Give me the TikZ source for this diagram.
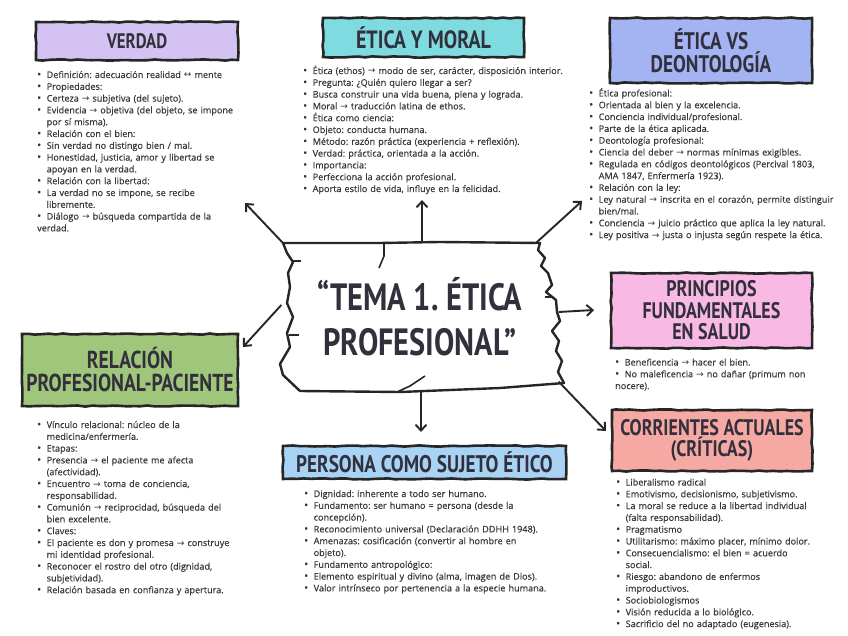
\documentclass[tikz,border=0pt]{standalone}
\usepackage{fontspec}
\setmainfont{Open Sans}
\newfontfamily\listafont[FakeBold=0.4]{Open Sans}
\newfontfamily\titlefont[FakeStretch=0.8]{PT Sans Bold}
\newfontfamily\symfont{DejaVu Sans}
\usetikzlibrary{arrows.meta,decorations.pathmorphing}
\frenchspacing
\definecolor{temaTinta}{HTML}{262626}
\definecolor{temaTexto}{HTML}{383838}
\definecolor{temaTitulo}{HTML}{33303D}
\definecolor{temaLila}{HTML}{D3C2F2}
\definecolor{temaTurquesa}{HTML}{7EDBE0}
\definecolor{temaAzul}{HTML}{A4B3F1}
\definecolor{temaRosa}{HTML}{F8B9E5}
\definecolor{temaSalmon}{HTML}{F6A8A2}
\definecolor{temaCeleste}{HTML}{A9D3F5}
\definecolor{temaVerde}{HTML}{A0C67C}
\newcommand{\flecha}{{\symfont →}}
\newcommand{\dflecha}{{\symfont ↔}}
\newcommand{\punto}{\par\hangindent=9.5pt\hangafter=1\noindent\makebox[9.5pt][l]{\raisebox{0.1pt}{\scalebox{1.15}{\textbullet}}}}

\begin{document}
\begin{tikzpicture}[x=1pt,y=-1pt,
    caja/.style={draw=temaTinta, line width=2.6pt, inner sep=0pt, align=center,
      text=temaTitulo, decorate, decoration={random steps, segment length=7pt, amplitude=0.6pt}},
    lista/.style={anchor=north west, inner sep=0pt, align=left, text=temaTexto,
      font=\listafont\fontsize{9.1}{11.8}\selectfont},
    flechaGr/.style={-{Straight Barb[length=6pt,width=11pt]}, line width=1.9pt, draw=temaTinta}]
  \fill[white] (0,0) rectangle (848,636);
  \useasboundingbox (0,0) rectangle (848,636);

  % centro
  \node[inner sep=0pt, minimum width=277pt, minimum height=149pt, align=center,
    text=temaTitulo, font=\titlefont\fontsize{38}{45}\selectfont] (tema) at (420,317)
    {“TEMA 1. ÉTICA\\PROFESIONAL”};
  \draw[temaTinta, line width=2.4pt, line join=round]
    (283,243) -- (380,243) -- (440,242) -- (540,243)
    -- (538,250) -- (545,258) -- (541,266) -- (548,273) -- (552,285) -- (546,292)
    -- (556,300) -- (557,312) -- (560,321) -- (552,331) -- (559,341) -- (556,351)
    -- (562,361) -- (558,372) -- (564,383)
    -- (500,388) -- (400,392) -- (300,391)
    -- (283,375) -- (280,364) -- (290,347) -- (287,333) -- (293,317) -- (287,303)
    -- (290,287) -- (288,273) -- (293,262) -- (287,253) -- cycle;
  \draw[temaTinta, line width=1.6pt] (384,244) -- (384,256) -- (379,268);
  \draw[temaTinta, line width=1.6pt] (425,376) -- (410,386) -- (397,392);
  \draw[temaTinta, line width=1.6pt] (292,261) -- (301,261);
  \draw[temaTinta, line width=1.6pt] (289,335) -- (299,335);
  \draw[temaTinta, line width=1.6pt] (545,297) -- (553,297);

  % cajas de titulo
  \node[caja, fill=temaLila, minimum width=202pt, minimum height=38pt,
    font=\titlefont\fontsize{21}{21}\selectfont] (verdad) at (137,41) {VERDAD};
  \node[caja, fill=temaTurquesa, minimum width=201pt, minimum height=39pt,
    font=\titlefont\fontsize{25}{25}\selectfont] (moral) at (423.5,37.5) {ÉTICA Y MORAL};
  \node[caja, fill=temaAzul, minimum width=202pt, minimum height=65pt,
    font=\titlefont\fontsize{24}{22.5}\selectfont] (deonto) at (711,50.5) {ÉTICA VS\\DEONTOLOGÍA};
  \node[caja, fill=temaRosa, minimum width=201pt, minimum height=75pt,
    font=\titlefont\fontsize{22.5}{21.5}\selectfont] (principios) at (711.5,310.5)
    {PRINCIPIOS\\FUNDAMENTALES\\EN SALUD};
  \node[caja, fill=temaSalmon, minimum width=200pt, minimum height=61pt,
    font=\titlefont\fontsize{22.5}{19.5}\selectfont] (corrientes) at (712,440.5)
    {CORRIENTES ACTUALES\\(CRÍTICAS)};
  \node[caja, fill=temaCeleste, minimum width=283pt, minimum height=33pt,
    font=\titlefont\fontsize{24}{24}\selectfont] (persona) at (424.5,462.5)
    {PERSONA COMO SUJETO ÉTICO};
  \node[caja, fill=temaVerde, minimum width=216pt, minimum height=72pt,
    font=\titlefont\fontsize{24.5}{23}\selectfont] (relacion) at (130,370)
    {RELACIÓN\\PROFESIONAL-PACIENTE};

  % listas
  \node[lista, text width=215pt] (verdadTxt) at (37,66) {%
    \punto Definición: adecuación realidad \dflecha{} mente
    \punto Propiedades:
    \punto Certeza \flecha{} subjetiva (del sujeto).
    \punto Evidencia \flecha{} objetiva (del objeto, se impone\newline por sí misma).
    \punto Relación con el bien:
    \punto Sin verdad no distingo bien / mal.
    \punto Honestidad, justicia, amor y libertad se\newline apoyan en la verdad.
    \punto Relación con la libertad:
    \punto La verdad no se impone, se recibe\newline libremente.
    \punto Diálogo \flecha{} búsqueda compartida de la\newline verdad.};
  \node[lista, text width=285pt] (moralTxt) at (303,62) {%
    \punto Ética (ethos) \flecha{} modo de ser, carácter, disposición interior.
    \punto Pregunta: ¿Quién quiero llegar a ser?
    \punto Busca construir una vida buena, plena y lograda.
    \punto Moral \flecha{} traducción latina de ethos.
    \punto Ética como ciencia:
    \punto Objeto: conducta humana.
    \punto Método: razón práctica (experiencia + reflexión).
    \punto Verdad: práctica, orientada a la acción.
    \punto Importancia:
    \punto Perfecciona la acción profesional.
    \punto Aporta estilo de vida, influye en la felicidad.};
  \node[lista, text width=258pt] (deontoTxt) at (589,84.5) {%
    \punto Ética profesional:
    \punto Orientada al bien y la excelencia.
    \punto Conciencia individual/profesional.
    \punto Parte de la ética aplicada.
    \punto Deontología profesional:
    \punto Ciencia del deber \flecha{} normas mínimas exigibles.
    \punto Regulada en códigos deontológicos (Percival 1803,\newline AMA 1847, Enfermería 1923).
    \punto Relación con la ley:
    \punto Ley natural \flecha{} inscrita en el corazón, permite distinguir\newline bien/mal.
    \punto Conciencia \flecha{} juicio práctico que aplica la ley natural.
    \punto Ley positiva \flecha{} justa o injusta según respete la ética.};
  \node[lista, text width=220pt] (principiosTxt) at (615,353.5) {%
    \punto Beneficencia \flecha{} hacer el bien.
    \punto No maleficencia \flecha{} no dañar (primum non\newline nocere).};
  \node[lista, text width=220pt] (corrientesTxt) at (616,473.5) {%
    \punto Liberalismo radical
    \punto Emotivismo, decisionismo, subjetivismo.
    \punto La moral se reduce a la libertad individual\newline (falta responsabilidad).
    \punto Pragmatismo
    \punto Utilitarismo: máximo placer, mínimo dolor.
    \punto Consecuencialismo: el bien = acuerdo\newline social.
    \punto Riesgo: abandono de enfermos\newline improductivos.
    \punto Sociobiologismos
    \punto Visión reducida a lo biológico.
    \punto Sacrificio del no adaptado (eugenesia).};
  \node[lista, text width=270pt] (personaTxt) at (304,485) {%
    \punto Dignidad: inherente a todo ser humano.
    \punto Fundamento: ser humano = persona (desde la\newline concepción).
    \punto Reconocimiento universal (Declaración DDHH 1948).
    \punto Amenazas: cosificación (convertir al hombre en\newline objeto).
    \punto Fundamento antropológico:
    \punto Elemento espiritual y divino (alma, imagen de Dios).
    \punto Valor intrínseco por pertenencia a la especie humana.};
  \node[lista, text width=225pt] (relacionTxt) at (37,416) {%
    \punto Vínculo relacional: núcleo de la\newline medicina/enfermería.
    \punto Etapas:
    \punto Presencia \flecha{} el paciente me afecta\newline (afectividad).
    \punto Encuentro \flecha{} toma de conciencia,\newline responsabilidad.
    \punto Comunión \flecha{} reciprocidad, búsqueda del\newline bien excelente.
    \punto Claves:
    \punto El paciente es don y promesa \flecha{} construye\newline mi identidad profesional.
    \punto Reconocer el rostro del otro (dignidad,\newline subjetividad).
    \punto Relación basada en confianza y apertura.};

  % flechas desde el centro
  \coordinate (pVerdad) at (245,203);
  \coordinate (pMoral) at (422,200);
  \coordinate (pDeonto) at (582,201);
  \coordinate (pPrincipios) at (594,310);
  \coordinate (pCorrientes) at (606,431);
  \coordinate (pPersona) at (421,432);
  \coordinate (pRelacion) at (243,347);
  \draw[flechaGr] ([xshift=1pt]tema.north west) -- (pVerdad);
  \draw[flechaGr] ([xshift=2pt]tema.north) -- (pMoral);
  \draw[flechaGr] ([xshift=-22pt]tema.north east) -- (pDeonto);
  \draw[flechaGr] ([yshift=5pt]tema.east) -- (pPrincipios);
  \draw[flechaGr] ([yshift=10pt]tema.south east) -- (pCorrientes);
  \draw[flechaGr] ([xshift=1pt]tema.south) -- (pPersona);
  \draw[flechaGr] ([yshift=12pt]tema.west) -- (pRelacion);
\end{tikzpicture}
\end{document}
